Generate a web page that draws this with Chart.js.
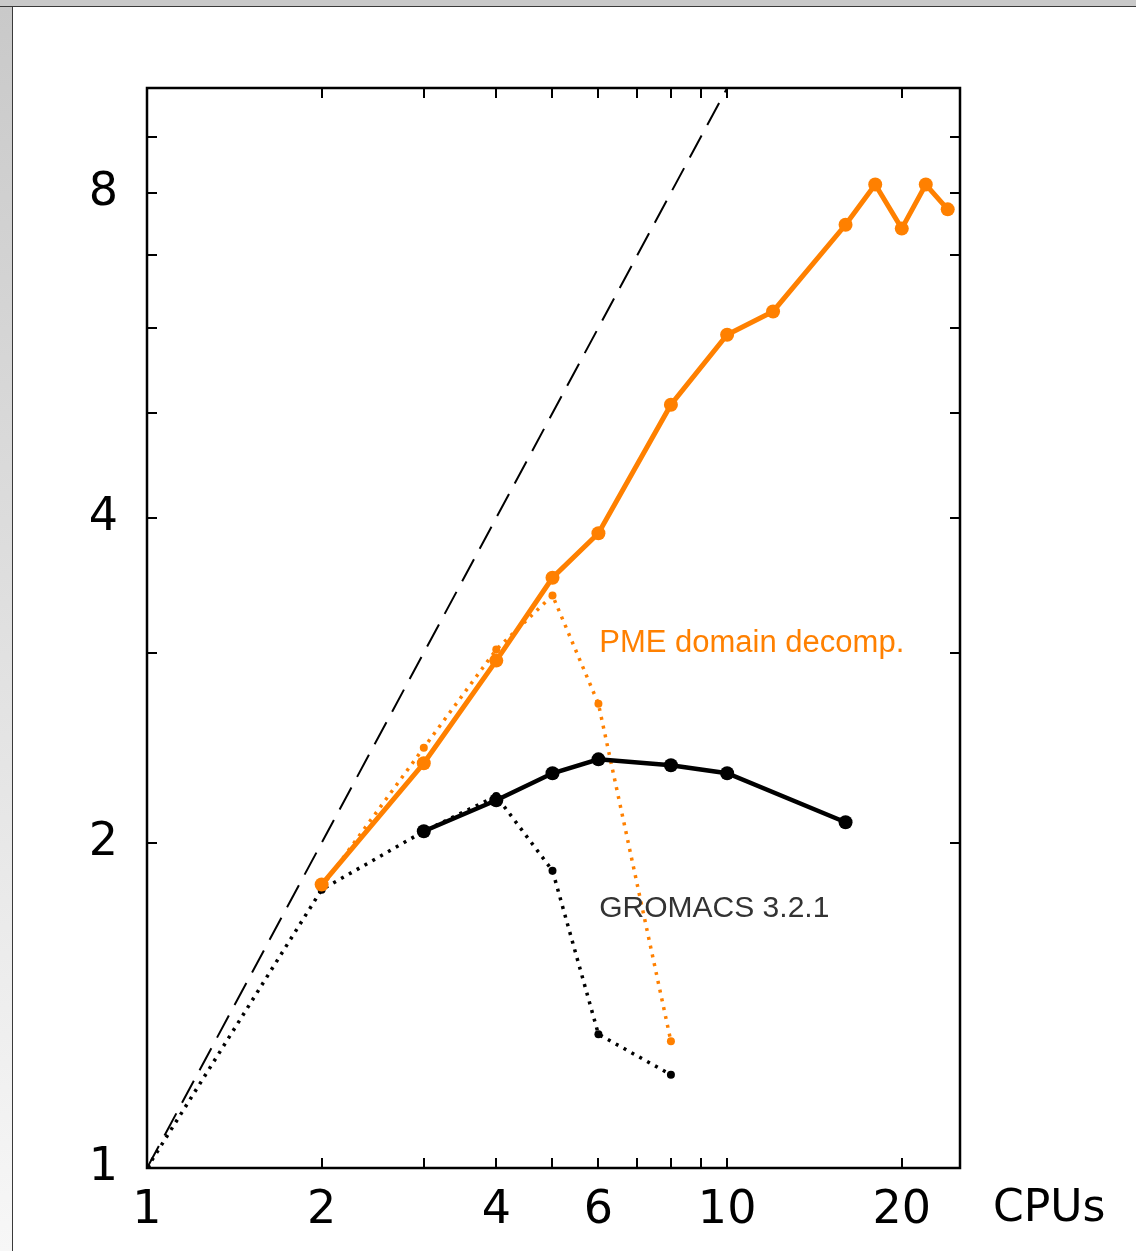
<!DOCTYPE html>
<html>
<head>
<meta charset="utf-8">
<title>GROMACS scaling</title>
<script src="https://cdn.jsdelivr.net/npm/chart.js@4.4.0/dist/chart.umd.min.js"></script>
<style>
    html, body { margin: 0; padding: 0; background: #ffffff; overflow: hidden; }
    #frameTop { position: absolute; left: 0; top: 0; width: 1136px; height: 6px; background: #c9c9c9; border-bottom: 1px solid #3a3a3a; }
    #frameLeft { position: absolute; left: 0; top: 7px; width: 12px; height: 1244px; background: linear-gradient(#c9c9c9, #f7f7f7); border-right: 1px solid #3a3a3a; }
    #chartWrap { position: absolute; left: 0; top: 0; width: 1136px; height: 1251px; }
</style>
</head>
<body>
<div id="frameTop"></div>
<div id="frameLeft"></div>
<div id="chartWrap"><canvas id="speedupChart" width="1136" height="1251"></canvas></div>
<script>
// Données (speedup vs nombre de CPUs)
const pmeCpus = [2, 3, 4, 5, 6, 8, 10, 12, 16, 18, 20, 22, 24];
const pmeSpeedup = [1.83, 2.37, 2.95, 3.52, 3.87, 5.09, 5.91, 6.21, 7.47, 8.14, 7.41, 8.14, 7.72];

const gmxCpus = [3, 4, 5, 6, 8, 10, 16];
const gmxSpeedup = [2.05, 2.19, 2.32, 2.39, 2.36, 2.32, 2.09];

const pmeOldCpus = [2, 3, 4, 5, 6, 8];
const pmeOldSpeedup = [1.82, 2.45, 3.02, 3.39, 2.69, 1.31];

const gmxOldCpus = [1, 2, 3, 4, 5, 6, 8];
const gmxOldSpeedup = [1, 1.81, 2.05, 2.21, 1.885, 1.33, 1.22];

const idealCpus = [1, 10];
const idealSpeedup = [1, 10];

const xTickValues = [1, 2, 3, 4, 5, 6, 7, 8, 9, 10, 20];
const xTickLabels = [1, 2, 4, 6, 10, 20];
const yTickValues = [1, 2, 3, 4, 5, 6, 7, 8, 9, 10];
const yTickLabels = [1, 2, 4, 8];

const ORANGE = '#ff8000';
const BLACK = '#000000';

function toPoints(xs, ys) {
    return xs.map((x, i) => ({ x: x, y: ys[i] }));
}

// Cadre + petites graduations vers l'intérieur, textes annexes
const framePlugin = {
    id: 'frame',
    afterDraw(chart) {
        const ctx = chart.ctx;
        const area = chart.chartArea;
        const xs = chart.scales.x;
        const ys = chart.scales.y;
        const tick = 10;
        ctx.save();
        ctx.strokeStyle = BLACK;
        ctx.lineWidth = 2;
        xTickValues.forEach(v => {
            const px = Math.round(xs.getPixelForValue(v));
            if (px <= area.left + 1 || px >= area.right - 1) return;
            ctx.beginPath();
            ctx.moveTo(px, area.bottom);
            ctx.lineTo(px, area.bottom - tick);
            ctx.moveTo(px, area.top);
            ctx.lineTo(px, area.top + tick);
            ctx.stroke();
        });
        yTickValues.forEach(v => {
            const py = Math.round(ys.getPixelForValue(v));
            if (py <= area.top + 1 || py >= area.bottom - 1) return;
            ctx.beginPath();
            ctx.moveTo(area.left, py);
            ctx.lineTo(area.left + tick, py);
            ctx.moveTo(area.right, py);
            ctx.lineTo(area.right - tick, py);
            ctx.stroke();
        });
        ctx.lineWidth = 2.5;
        ctx.strokeRect(area.left, area.top, area.right - area.left, area.bottom - area.top);

        // Titre de l'axe x, à droite des graduations
        ctx.fillStyle = BLACK;
        ctx.font = '44px "DejaVu Sans", sans-serif';
        ctx.textAlign = 'left';
        ctx.textBaseline = 'middle';
        ctx.fillText('CPUs', 993, 1210);

        // Étiquettes des courbes
        ctx.font = '31px "Liberation Sans", Arial, sans-serif';
        ctx.fillStyle = ORANGE;
        ctx.fillText('PME domain decomp.', xs.getPixelForValue(6.02), ys.getPixelForValue(3.06));
        ctx.font = '30px "Liberation Sans", Arial, sans-serif';
        ctx.fillStyle = '#333333';
        ctx.fillText('GROMACS 3.2.1', xs.getPixelForValue(6.02), ys.getPixelForValue(1.738));
        ctx.restore();
    }
};

const ctx = document.getElementById('speedupChart').getContext('2d');
const speedupChart = new Chart(ctx, {
    type: 'line',
    data: {
        datasets: [
            {
                label: 'PME domain decomp.',
                data: toPoints(pmeCpus, pmeSpeedup),
                borderColor: ORANGE,
                backgroundColor: ORANGE,
                borderWidth: 5,
                pointRadius: 7,
                pointBorderWidth: 0,
                tension: 0
            },
            {
                label: 'GROMACS 3.2.1',
                data: toPoints(gmxCpus, gmxSpeedup),
                borderColor: BLACK,
                backgroundColor: BLACK,
                borderWidth: 4.5,
                pointRadius: 7,
                pointBorderWidth: 0,
                tension: 0
            },
            {
                label: 'PME (old)',
                data: toPoints(pmeOldCpus, pmeOldSpeedup),
                borderColor: ORANGE,
                backgroundColor: ORANGE,
                borderWidth: 3.5,
                borderDash: [3, 6],
                pointRadius: 4,
                pointBorderWidth: 0,
                tension: 0
            },
            {
                label: 'GROMACS (old)',
                data: toPoints(gmxOldCpus, gmxOldSpeedup),
                borderColor: BLACK,
                backgroundColor: BLACK,
                borderWidth: 3.5,
                borderDash: [3, 6],
                pointRadius: 4,
                pointBorderWidth: 0,
                tension: 0
            },
            {
                label: 'ideal',
                data: toPoints(idealCpus, idealSpeedup),
                borderColor: BLACK,
                borderWidth: 2,
                borderDash: [25, 12],
                pointRadius: 0,
                tension: 0
            }
        ]
    },
    options: {
        responsive: false,
        animation: false,
        devicePixelRatio: 1,
        layout: { padding: { top: 88, right: 176, left: 0, bottom: 0 } },
        plugins: {
            legend: { display: false },
            tooltip: { enabled: false }
        },
        scales: {
            x: {
                type: 'logarithmic',
                position: 'bottom',
                min: 1,
                max: 25.2,
                afterFit: s => { s.height = 83; },
                afterBuildTicks: s => { s.ticks = xTickValues.map(v => ({ value: v })); },
                grid: { display: false, drawTicks: false },
                border: { display: false },
                ticks: {
                    autoSkip: false,
                    maxRotation: 0,
                    padding: 15,
                    color: BLACK,
                    font: { family: '"DejaVu Sans", sans-serif', size: 46 },
                    callback: function(value) {
                        return xTickLabels.includes(value) ? String(value) : '';
                    }
                }
            },
            y: {
                type: 'logarithmic',
                position: 'left',
                min: 1,
                max: 10,
                afterFit: s => { s.width = 147; },
                afterBuildTicks: s => { s.ticks = yTickValues.map(v => ({ value: v })); },
                grid: { display: false, drawTicks: false },
                border: { display: false },
                ticks: {
                    autoSkip: false,
                    padding: 29,
                    color: BLACK,
                    font: { family: '"DejaVu Sans", sans-serif', size: 46 },
                    callback: function(value) {
                        return yTickLabels.includes(value) ? String(value) : '';
                    }
                }
            }
        }
    },
    plugins: [framePlugin]
});
</script>
</body>
</html>
